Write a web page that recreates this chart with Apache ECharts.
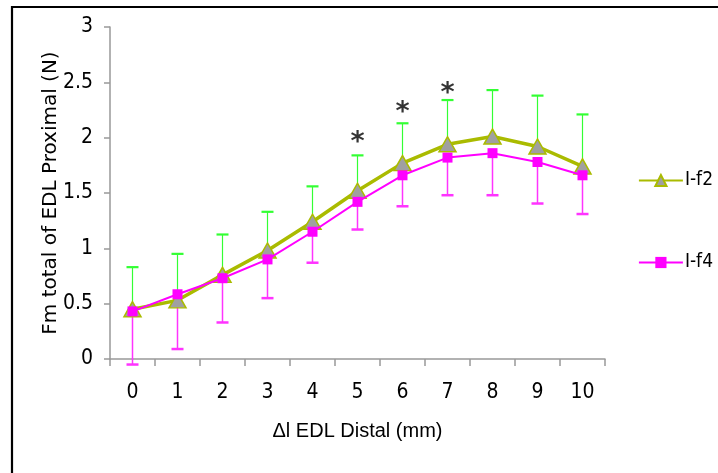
<!DOCTYPE html>
<html>
<head>
<meta charset="utf-8">
<script src="https://cdn.jsdelivr.net/npm/echarts@6/dist/echarts.min.js"></script>
<style>
html,body{margin:0;padding:0;background:#fff;}
#chart{width:718px;height:473px;}
</style>
</head>
<body>
<div id="chart"></div>
<script>
// ---- data ----
const categories = ['0','1','2','3','4','5','6','7','8','9','10'];
const f2Mean = [0.45, 0.53, 0.76, 0.98, 1.24, 1.52, 1.77, 1.94, 2.01, 1.92, 1.74];
const f2Sd   = [0.38, 0.42, 0.365, 0.35, 0.32, 0.32, 0.36, 0.40, 0.42, 0.46, 0.47];
const f4Mean = [0.43, 0.585, 0.73, 0.90, 1.15, 1.42, 1.66, 1.82, 1.86, 1.78, 1.66];
const f4Sd   = [0.48, 0.495, 0.40, 0.35, 0.28, 0.25, 0.28, 0.34, 0.38, 0.375, 0.35];
const starCats = ['5','6','7'];
const starY = [2.0, 2.27, 2.44];
const seriesNames = ['I-f2', 'I-f4'];

const narrow = "'Liberation Sans Narrow','Arial Narrow','DejaVu Sans Condensed',sans-serif";

function errBar(color, dir, lw) {
  return function (params, api) {
    const x = api.value(0);
    const m = api.value(1);
    const sd = api.value(2);
    const p0 = api.coord([x, m]);
    const p1 = api.coord([x, dir > 0 ? m + sd : m - sd]);
    const hw = 6;
    const style = { stroke: color, lineWidth: lw };
    return {
      type: 'group',
      children: [
        { type: 'line', shape: { x1: p0[0], y1: p0[1], x2: p1[0], y2: p1[1] }, style: style },
        { type: 'line', shape: { x1: p1[0] - hw, y1: p1[1], x2: p1[0] + hw, y2: p1[1] }, style: { stroke: color, lineWidth: lw + 1 } }
      ]
    };
  };
}

const chart = echarts.init(document.getElementById('chart'), null, { renderer: 'canvas' });
chart.setOption({
  animation: false,
  backgroundColor: '#ffffff',
  grid: { left: 110, right: 113, top: 27, bottom: 114, containLabel: false },
  graphic: [{
    type: 'rect', z: 100, silent: true,
    shape: { x: 12, y: 7, width: 730, height: 490 },
    style: { fill: 'none', stroke: '#000', lineWidth: 2.2 }
  }],
  legend: {
    orient: 'vertical',
    right: 0, top: 166,
    itemGap: 63,
    itemWidth: 44, itemHeight: 14,
    data: seriesNames,
    textStyle: { fontFamily: narrow, fontSize: 19, color: '#000', padding: [0, 0, 0, -3] }
  },
  xAxis: {
    type: 'category',
    data: categories,
    boundaryGap: true,
    name: 'Δl EDL Distal (mm)',
    nameLocation: 'middle',
    nameGap: 62,
    nameMoveOverlap: false,
    nameTextStyle: { fontFamily: "'Liberation Sans',Arial,sans-serif", fontSize: 20, color: '#000' },
    axisLine: { lineStyle: { color: '#999', width: 1.5 } },
    axisTick: { show: true, length: 7, lineStyle: { color: '#999', width: 1.5 } },
    axisLabel: { fontFamily: narrow, fontSize: 21, color: '#000', margin: 23 }
  },
  yAxis: {
    type: 'value',
    min: 0, max: 3, interval: 0.5,
    name: 'Fm total of EDL Proximal (N)',
    nameLocation: 'middle',
    nameGap: 49,
    nameMoveOverlap: false,
    nameTextStyle: { fontFamily: "'DejaVu Sans',sans-serif", fontSize: 20, color: '#000' },
    splitLine: { show: false },
    axisLine: { show: true, lineStyle: { color: '#999', width: 1.5 } },
    axisTick: { show: true, length: 6, lineStyle: { color: '#999', width: 1.5 } },
    axisLabel: { fontFamily: narrow, fontSize: 21, color: '#000', margin: 17 }
  },
  series: [
    {
      type: 'custom', name: 'f2err', z: 1,
      renderItem: errBar('#33ff33', 1, 1.2),
      data: categories.map((c, i) => [i, f2Mean[i], f2Sd[i]]),
      encode: { x: 0, y: 1 }
    },
    {
      type: 'custom', name: 'f4err', z: 1,
      renderItem: errBar('#ff33ff', -1, 1.5),
      data: categories.map((c, i) => [i, f4Mean[i], f4Sd[i]]),
      encode: { x: 0, y: 1 }
    },
    {
      name: seriesNames[0], type: 'line', z: 3,
      data: f2Mean,
      symbol: 'triangle', symbolSize: [17, 15],
      lineStyle: { color: '#aabb00', width: 3.5 },
      itemStyle: { color: '#a0a0a0', borderColor: '#aabb00', borderWidth: 1.5 }
    },
    {
      name: seriesNames[1], type: 'line', z: 4,
      data: f4Mean,
      symbol: 'rect', symbolSize: 10,
      lineStyle: { color: '#ff00ff', width: 2 },
      itemStyle: { color: '#ff00ff', borderColor: '#ff00ff', borderWidth: 0 }
    },
    {
      type: 'scatter', name: 'stars', z: 5,
      symbolSize: 0,
      data: starCats.map((c, i) => [c, starY[i]]),
      label: {
        show: true, position: 'inside', formatter: '*', offset: [0, 5],
        fontFamily: "'DejaVu Sans',sans-serif", fontWeight: 'bold', fontSize: 27, color: '#000'
      }
    }
  ]
});
</script>
</body>
</html>
